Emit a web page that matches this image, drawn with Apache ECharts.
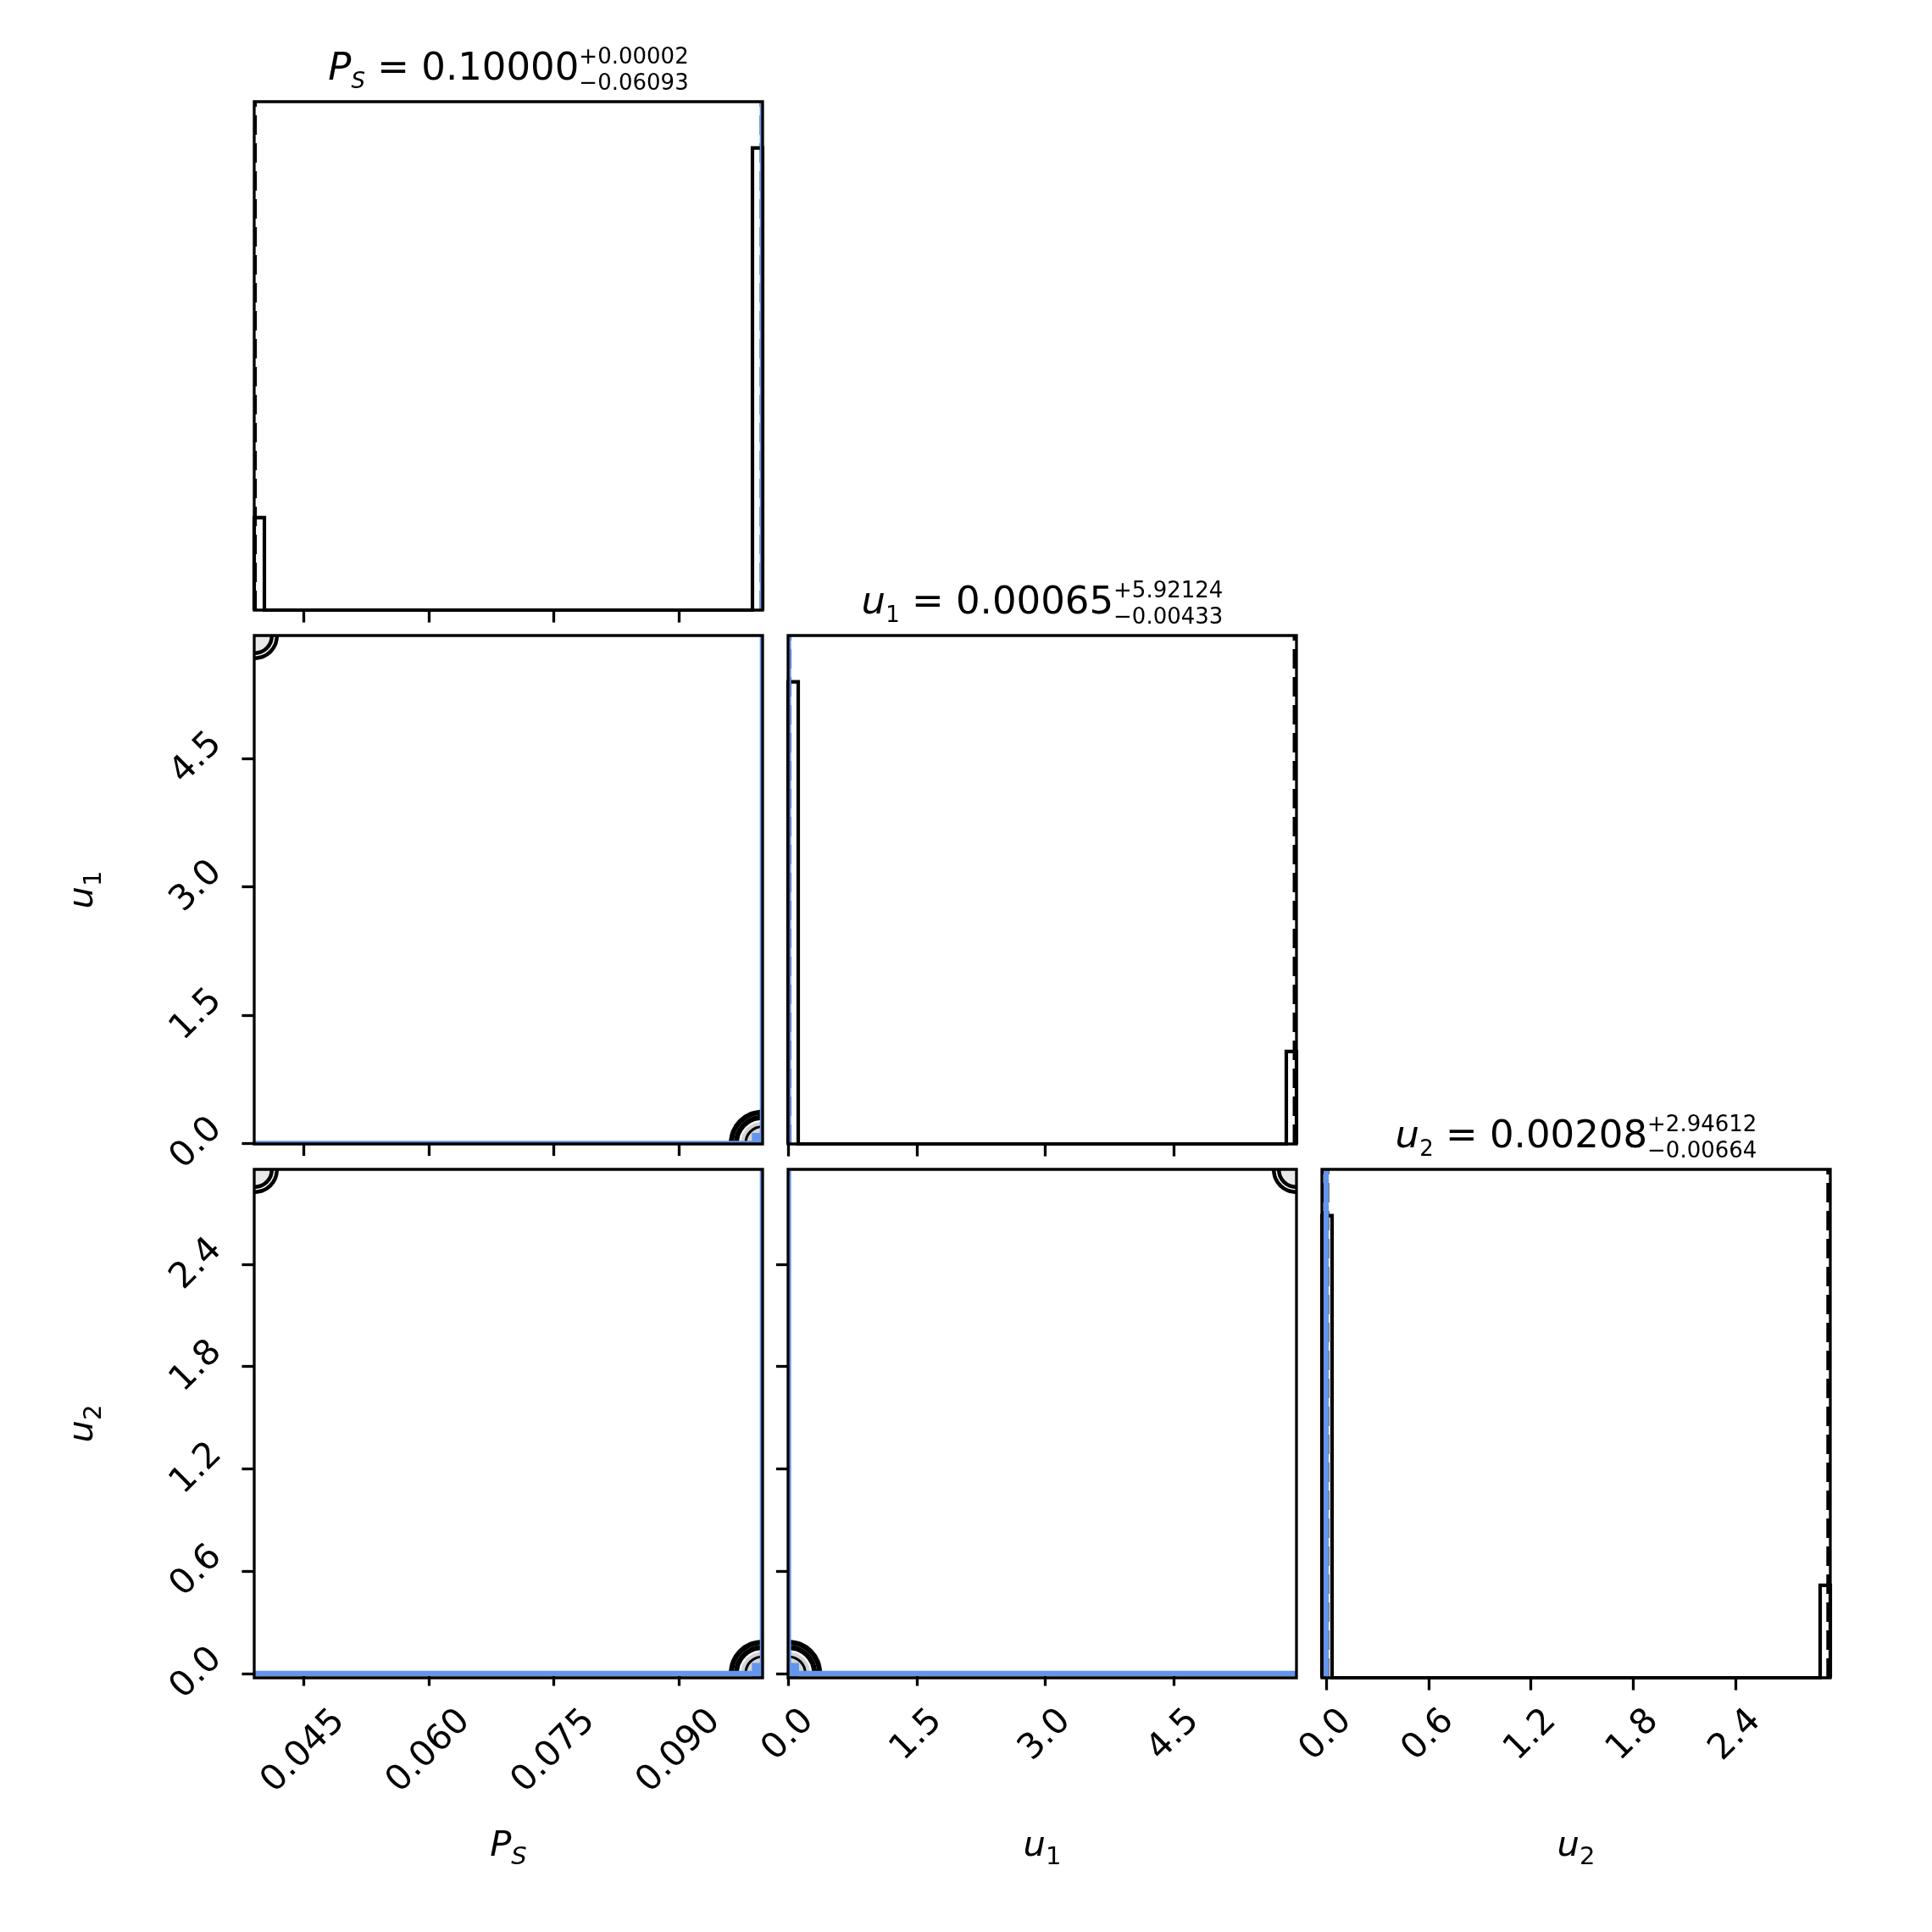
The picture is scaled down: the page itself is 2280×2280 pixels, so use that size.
<!DOCTYPE html>
<html><head><meta charset="utf-8">
<script src="https://cdn.jsdelivr.net/npm/echarts@6/dist/echarts.min.js"></script>
<style>html,body{margin:0;padding:0;background:#fff}#c{width:2280px;height:2280px}</style>
</head><body><div id="c"></div>
<script>
// ================= DATA =================
const psRange = [0.03907, 0.10002];
const u1Range = [-0.005, 5.935];
const u2Range = [-0.025, 2.956];
const histRange = [0, 1.1];

const psTicks = [0.045, 0.060, 0.075, 0.090];
const u1Ticks = [0.0, 1.5, 3.0, 4.5];
const u2Ticks = [0.0, 0.6, 1.2, 1.8, 2.4];

const truths = [0.1, 0.0, 0.0];            // P_S, u1, u2
const psQuantiles = [0.03907, 0.10000, 0.10002];
const u1Quantiles = [-0.00368, 0.00065, 5.92189];
const u2Quantiles = [-0.00456, 0.00208, 2.94820];

// 1-D histograms (step outlines): bin edges and heights between consecutive edges
const psHistEdges = [0.03907, 0.04029, 0.09880, 0.10002];
const psHistHeights = [0.2, 0, 1.0];
const u1HistEdges = [-0.005, 0.1138, 5.8162, 5.935];
const u1HistHeights = [1.0, 0, 0.2];
const u2HistEdges = [-0.025, 0.0346, 2.8964, 2.956];
const u2HistHeights = [1.0, 0, 0.2];

// titles
const titleSymbols = ['P', 'u', 'u'];
const titleSymbolSubs = ['S', '1', '2'];
const titleMedians = ['0.10000', '0.00065', '0.00208'];
const titlePlus = ['+0.00002', '+5.92124', '+2.94612'];
const titleMinus = ['\u22120.06093', '\u22120.00433', '\u22120.00664'];

// 2-D contour paths, [x, y] in data units
// panel P_S (x) vs u1 (y)
const psU1_A1 = [[0.09624,0],[0.09653,0.140],[0.09734,0.259],[0.09856,0.338],[0.10000,0.366]];
const psU1_A2 = [[0.09685,0],[0.09709,0.117],[0.09777,0.217],[0.09879,0.283],[0.10000,0.306]];
const psU1_A3 = [[0.09797,0],[0.09812,0.076],[0.09856,0.140],[0.09922,0.183],[0.10000,0.198]];
const psU1_AFill = [[0.10000,0],[0.09736,0],[0.09756,0.098],[0.09813,0.182],[0.09899,0.237],[0.10000,0.257]];
const psU1_B1 = [[0.04181,5.935],[0.04160,5.8328],[0.04101,5.7464],[0.04012,5.6885],[0.03907,5.6682]];
const psU1_B2 = [[0.04120,5.935],[0.04104,5.8555],[0.04058,5.7883],[0.03989,5.7433],[0.03907,5.7275]];
const psU1_BFill = [[0.03907,5.935],[0.04120,5.935],[0.04104,5.8555],[0.04058,5.7883],[0.03989,5.7433],[0.03907,5.7275]];
// panel P_S (x) vs u2 (y)
const psU2_A1 = [[0.09624,0],[0.09653,0.0702],[0.09734,0.1296],[0.09856,0.1694],[0.10000,0.1833]];
const psU2_A2 = [[0.09685,0],[0.09709,0.0588],[0.09777,0.1086],[0.09879,0.1419],[0.10000,0.1536]];
const psU2_A3 = [[0.09797,0],[0.09812,0.0380],[0.09856,0.0701],[0.09922,0.0916],[0.10000,0.0991]];
const psU2_AFill = [[0.10000,0],[0.09736,0],[0.09756,0.0493],[0.09813,0.0911],[0.09899,0.1190],[0.10000,0.1288]];
const psU2_B1 = [[0.04181,2.956],[0.04160,2.9048],[0.04101,2.8614],[0.04012,2.8324],[0.03907,2.8222]];
const psU2_B2 = [[0.04120,2.956],[0.04104,2.9161],[0.04058,2.8824],[0.03989,2.8598],[0.03907,2.8519]];
const psU2_BFill = [[0.03907,2.956],[0.04120,2.956],[0.04104,2.9161],[0.04058,2.8824],[0.03989,2.8598],[0.03907,2.8519]];
// panel u1 (x) vs u2 (y)
const u1U2_A1 = [[0.3656,0],[0.3378,0.0702],[0.2585,0.1296],[0.1400,0.1694],[0,0.1833]];
const u1U2_A2 = [[0.3063,0],[0.2830,0.0588],[0.2166,0.1086],[0.1173,0.1419],[0,0.1536]];
const u1U2_A3 = [[0.1976,0],[0.1826,0.0380],[0.1397,0.0701],[0.0757,0.0916],[0,0.0991]];
const u1U2_AFill = [[0,0],[0.2569,0],[0.2374,0.0493],[0.1816,0.0911],[0.0984,0.1190],[0,0.1288]];
const u1U2_B1 = [[5.6682,2.956],[5.6885,2.9048],[5.7464,2.8614],[5.8328,2.8324],[5.935,2.8222]];
const u1U2_B2 = [[5.7275,2.956],[5.7433,2.9161],[5.7883,2.8824],[5.8555,2.8598],[5.935,2.8519]];
const u1U2_BFill = [[5.935,2.956],[5.7275,2.956],[5.7433,2.9161],[5.7883,2.8824],[5.8555,2.8598],[5.935,2.8519]];

// ================= LAYOUT / STYLE =================
const FONT = '"DejaVu Sans", sans-serif';
const BLUE = '#6495ED';
const FS = 41.7;        // 10pt @300dpi
const TFS = 45;         // title size
const SFS = 26;         // script size in titles
const PANEL = 600, GAP = 30, LEFT = 300, TOP = 120;
const LW_SPINE = 3.3, TICK_LEN = 14.6;
const MARKER = 25;

function gridAt(r, c) {
  return {left: LEFT + c * (PANEL + GAP), top: TOP + r * (PANEL + GAP), width: PANEL, height: PANEL,
    show: false, containLabel: false, outerBoundsMode: 'none'};
}
const nameRich = {
  m: {fontFamily: FONT, fontSize: FS, fontStyle: 'italic', color: '#000', verticalAlign: 'bottom', padding: [0, 0, 7, 0]},
  s: {fontFamily: FONT, fontSize: 29, fontStyle: 'italic', color: '#000', verticalAlign: 'bottom'},
  n: {fontFamily: FONT, fontSize: 29, color: '#000', verticalAlign: 'bottom'}
};
function axis(o) {
  const a = {type: 'value', gridIndex: o.grid, min: o.range[0], max: o.range[1],
    splitLine: {show: false}, axisLine: {show: false},
    axisTick: {show: !!o.ticks, customValues: o.ticks || [], length: TICK_LEN, inside: false,
      lineStyle: {color: '#000', width: LW_SPINE}},
    axisLabel: {show: !!o.labels, customValues: o.ticks || [], rotate: 45, align: 'center', verticalAlign: 'middle',
      margin: o.margin || 68, formatter: v => Number(v).toFixed(o.dec || 1), fontFamily: FONT, fontSize: FS, color: '#000'}
  };
  if (o.name) {
    a.name = o.name; a.nameLocation = 'middle'; a.nameGap = o.nameGap;
    if (o.rot) a.nameRotate = 90;
    a.nameTextStyle = {rich: nameRich};
  }
  return a;
}
const grids = [gridAt(0,0), gridAt(1,0), gridAt(1,1), gridAt(2,0), gridAt(2,1), gridAt(2,2)];
const xAxes = [
  axis({grid: 0, range: psRange, ticks: psTicks}),
  axis({grid: 1, range: psRange, ticks: psTicks}),
  axis({grid: 2, range: u1Range, ticks: u1Ticks}),
  axis({grid: 3, range: psRange, ticks: psTicks, labels: true, dec: 3, margin: 87, name: '{m|P}{s|S}', nameGap: 178}),
  axis({grid: 4, range: u1Range, ticks: u1Ticks, labels: true, dec: 1, margin: 68, name: '{m|u}{n|1}', nameGap: 178}),
  axis({grid: 5, range: u2Range, ticks: u2Ticks, labels: true, dec: 1, margin: 68, name: '{m|u}{n|2}', nameGap: 178})
];
const yAxes = [
  axis({grid: 0, range: histRange}),
  axis({grid: 1, range: u1Range, ticks: u1Ticks, labels: true, dec: 1, margin: 68, name: '{m|u}{n|1}', nameGap: 174, rot: true}),
  axis({grid: 2, range: histRange}),
  axis({grid: 3, range: u2Range, ticks: u2Ticks, labels: true, dec: 1, margin: 68, name: '{m|u}{n|2}', nameGap: 174, rot: true}),
  axis({grid: 4, range: u2Range, ticks: u2Ticks}),
  axis({grid: 5, range: histRange})
];

function stepPoints(edges, heights) {
  const pts = [[edges[0], 0]];
  for (let i = 0; i < heights.length; i++) { pts.push([edges[i], heights[i]]); pts.push([edges[i + 1], heights[i]]); }
  pts.push([edges[edges.length - 1], 0]);
  return pts;
}
// straight segment between two data points, strictly clipped to the panel
function segSeries(ax, p0, p1, color, width, z, dashed) {
  return {type: 'custom', xAxisIndex: ax, yAxisIndex: ax, clip: true, z, silent: true, animation: false,
    encode: {x: [0, 2], y: [1, 3]}, data: [[p0[0], p0[1], p1[0], p1[1]]],
    renderItem: (params, api) => {
      const a = api.coord([api.value(0), api.value(1)]);
      const b = api.coord([api.value(2), api.value(3)]);
      const cs = params.coordSys;
      return {type: 'group', clipPath: {type: 'rect', shape: {x: cs.x, y: cs.y, width: cs.width, height: cs.height}},
        children: [{type: 'line', shape: {x1: a[0], y1: a[1], x2: b[0], y2: b[1]},
          style: {stroke: color, lineWidth: width, lineDash: dashed ? [23, 10] : null, lineCap: 'butt', fill: null}}]};
    }};
}
const series = [];
// 1-D histograms
const diag = [
  {ax: 0, edges: psHistEdges, heights: psHistHeights, q: psQuantiles, t: truths[0]},
  {ax: 2, edges: u1HistEdges, heights: u1HistHeights, q: u1Quantiles, t: truths[1]},
  {ax: 5, edges: u2HistEdges, heights: u2HistHeights, q: u2Quantiles, t: truths[2]}
];
diag.forEach(d => {
  series.push({type: 'line', xAxisIndex: d.ax, yAxisIndex: d.ax, data: stepPoints(d.edges, d.heights),
    symbol: 'none', showSymbol: false, clip: true, z: 2, silent: true, animation: false,
    lineStyle: {color: '#000', width: 4.17, join: 'miter', cap: 'butt'}});
  d.q.forEach(q => series.push(segSeries(d.ax, [q, histRange[0]], [q, histRange[1]], '#000', 6.25, 3, true)));
  series.push(segSeries(d.ax, [d.t, histRange[0]], [d.t, histRange[1]], BLUE, 6.25, 4, false));
});
// 2-D panels
const LINE_W = 6, THIN_W = 3, B_W = 4.5;
const panels2d = [
  {ax: 1, xr: psRange, yr: u1Range, tx: truths[0], ty: truths[1],
   shapes: [[psU1_AFill, 'fillA'], [psU1_BFill, 'fillB'], [psU1_A1, LINE_W], [psU1_A2, LINE_W], [psU1_A3, THIN_W], [psU1_B1, B_W], [psU1_B2, B_W]]},
  {ax: 3, xr: psRange, yr: u2Range, tx: truths[0], ty: truths[2],
   shapes: [[psU2_AFill, 'fillA'], [psU2_BFill, 'fillB'], [psU2_A1, LINE_W], [psU2_A2, LINE_W], [psU2_A3, THIN_W], [psU2_B1, B_W], [psU2_B2, B_W]]},
  {ax: 4, xr: u1Range, yr: u2Range, tx: truths[1], ty: truths[2],
   shapes: [[u1U2_AFill, 'fillA'], [u1U2_BFill, 'fillB'], [u1U2_A1, LINE_W], [u1U2_A2, LINE_W], [u1U2_A3, THIN_W], [u1U2_B1, B_W], [u1U2_B2, B_W]]}
];
panels2d.forEach(p => {
  series.push({type: 'custom', xAxisIndex: p.ax, yAxisIndex: p.ax, clip: true, z: 2, silent: true, animation: false,
    encode: {x: 0, y: 1},
    data: p.shapes.map(s => [s[0][0][0], s[0][0][1]]),
    renderItem: (params, api) => {
      const s = p.shapes[params.dataIndex];
      const pts = s[0].map(pt => api.coord(pt));
      if (s[1] === 'fillA') return {type: 'polygon', shape: {points: pts}, style: {fill: '#d4d4d4', stroke: null}};
      if (s[1] === 'fillB') return {type: 'polygon', shape: {points: pts}, style: {fill: '#e9e9e9', stroke: null}};
      return {type: 'polyline', shape: {points: pts, smooth: 0.35}, style: {fill: null, stroke: '#000', lineWidth: s[1]}};
    }});
  series.push(segSeries(p.ax, [p.tx, p.yr[0]], [p.tx, p.yr[1]], BLUE, 6.25, 4, false));
  series.push(segSeries(p.ax, [p.xr[0], p.ty], [p.xr[1], p.ty], BLUE, 6.25, 4, false));
  // truth marker (square), clipped to the panel
  series.push({type: 'custom', xAxisIndex: p.ax, yAxisIndex: p.ax, clip: true, z: 5, silent: true, animation: false,
    encode: {x: 0, y: 1}, data: [[p.tx, p.ty]],
    renderItem: (params, api) => {
      const c = api.coord([api.value(0), api.value(1)]);
      const cs = params.coordSys;
      const x0 = Math.max(c[0] - MARKER / 2, cs.x), x1 = Math.min(c[0] + MARKER / 2, cs.x + cs.width);
      const y0 = Math.max(c[1] - MARKER / 2, cs.y), y1 = Math.min(c[1] + MARKER / 2, cs.y + cs.height);
      return {type: 'rect', shape: {x: x0, y: y0, width: x1 - x0, height: y1 - y0}, style: {fill: BLUE}};
    }});
});

// titles above diagonal panels (stacked super/subscripts need separate text elements)
const ctx = document.createElement('canvas').getContext('2d');
function tw(t, size, it) { ctx.font = (it ? 'italic ' : '') + size + 'px "DejaVu Sans"'; return ctx.measureText(t).width; }
function txt(t, x, baseline, size, it) {
  return {type: 'text', x, y: baseline - 0.346 * size, silent: true, z: 20,
    style: {text: t, fill: '#000', fontFamily: FONT, fontSize: size, fontStyle: it ? 'italic' : 'normal',
      align: 'left', verticalAlign: 'middle'}};
}
const graphics = [];
// axes frames (spines) drawn on top of the data marks
grids.forEach(g => graphics.push({type: 'rect', silent: true, z: 100,
  shape: {x: g.left, y: g.top, width: g.width, height: g.height},
  style: {fill: null, stroke: '#000', lineWidth: LW_SPINE}}));
for (let i = 0; i < 3; i++) {
  const cx = LEFT + i * (PANEL + GAP) + PANEL / 2;
  const top = TOP + i * (PANEL + GAP);
  const symSubItalic = titleSymbolSubs[i] === 'S';
  const w1 = tw(titleSymbols[i], TFS, true);
  const w2 = tw(titleSymbolSubs[i], SFS, symSubItalic);
  const rest = ' = ' + titleMedians[i];
  const w3 = tw(rest, TFS, false);
  const w4 = Math.max(tw(titlePlus[i], SFS, false), tw(titleMinus[i], SFS, false));
  let x = cx - (w1 + w2 + w3 + w4) / 2;
  const base = top - 22;
  graphics.push(txt(titleSymbols[i], x, base, TFS, true)); x += w1;
  graphics.push(txt(titleSymbolSubs[i], x, base + 8, SFS, symSubItalic)); x += w2;
  graphics.push(txt(rest, x, base, TFS, false)); x += w3;
  graphics.push(txt(titlePlus[i], x, base - 21, SFS, false));
  graphics.push(txt(titleMinus[i], x, base + 10, SFS, false));
}

const chart = echarts.init(document.getElementById('c'), null, {renderer: 'canvas', width: 2280, height: 2280});
chart.setOption({
  animation: false, backgroundColor: '#fff',
  grid: grids, xAxis: xAxes, yAxis: yAxes, series, graphic: graphics
});
</script></body></html>
